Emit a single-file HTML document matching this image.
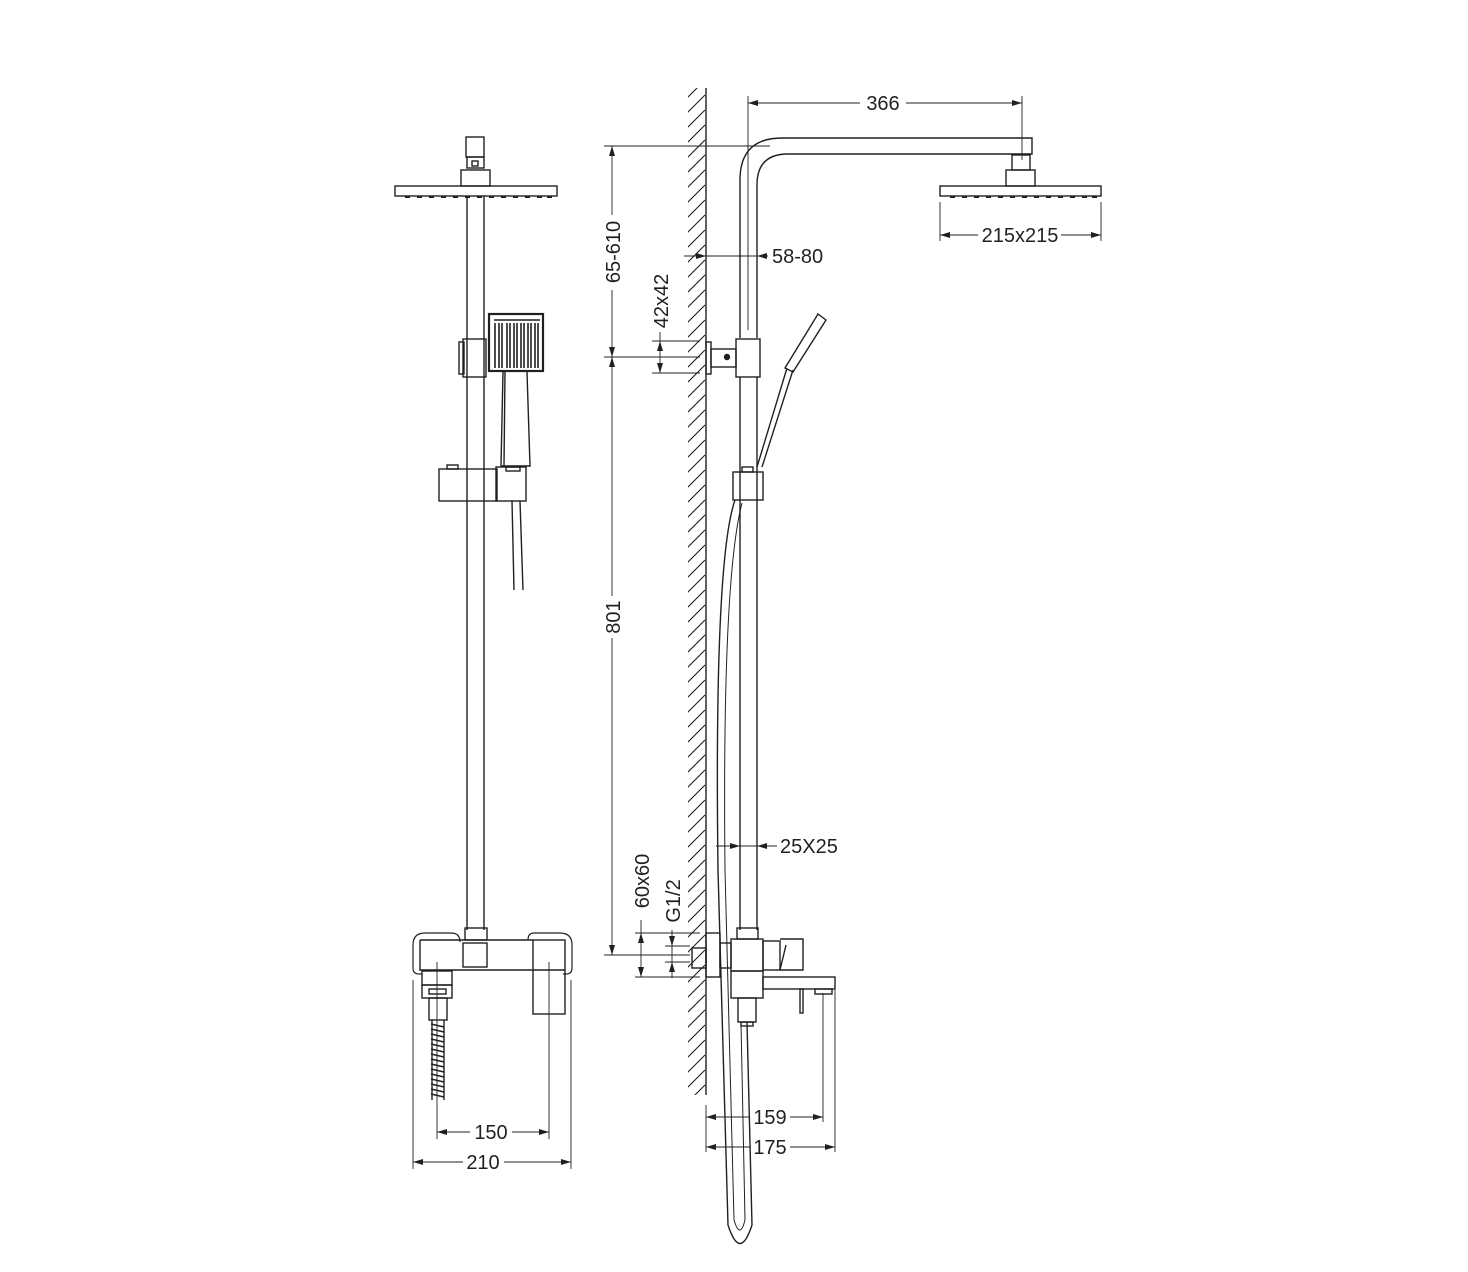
<!DOCTYPE html>
<html><head><meta charset="utf-8"><style>
html,body{margin:0;padding:0;background:#fff;}
svg{display:block}
text{font-family:"Liberation Sans",Arial,sans-serif;font-size:20px;fill:#231f20}
</style></head><body>
<svg width="1468" height="1272" viewBox="0 0 1468 1272" xmlns="http://www.w3.org/2000/svg">
<defs>
<pattern id="h" patternUnits="userSpaceOnUse" width="40" height="15">
<line x1="-5" y1="20" x2="25" y2="-10" stroke="#231f20" stroke-width="1.1"/>
<line x1="-5" y1="5" x2="25" y2="-25" stroke="#231f20" stroke-width="1.1"/>
<line x1="-5" y1="35" x2="25" y2="5" stroke="#231f20" stroke-width="1.1"/>
</pattern>
<marker id="a" viewBox="0 0 10 6" refX="10" refY="3" markerWidth="10" markerHeight="6" orient="auto-start-reverse" markerUnits="userSpaceOnUse"><path d="M0,0 L10,3 L0,6z" fill="#231f20"/></marker>
</defs>
<g fill="none" stroke="#231f20" stroke-width="1.4">
<!-- LEFT VIEW -->
<rect x="466" y="137" width="18" height="20"/><rect x="467" y="157" width="17" height="11"/><rect x="472" y="161" width="6" height="5"/>
<rect x="461" y="170" width="29" height="16"/>
<rect x="395" y="186" width="162" height="10"/>
<path d="M405 197h5M417 197h5M429 197h5M441 197h5M453 197h5M465 197h5M477 197h5M489 197h5M501 197h5M513 197h5M525 197h5M537 197h5M547 197h5" stroke-width="2"/>
<line x1="467" y1="196" x2="467" y2="930"/><line x1="484" y1="196" x2="484" y2="930"/>
<rect x="459" y="342" width="5" height="32"/><rect x="463" y="339" width="23" height="38"/>
<rect x="489" y="314" width="54" height="57" stroke-width="2.2"/>
<path d="M494 320h46" />
<path d="M495 323v45M499 323v45M502 323v45M507 323v45M510 323v45M514 323v45M517 323v45M521 323v45M524 323v45M528 323v45M531 323v45M535 323v45M538 323v45" stroke-width="1.6"/>
<path d="M503 372 L501 466 L530 466 L527 372 M505 372 L504 466"/>
<rect x="439" y="469" width="58" height="32"/><rect x="447" y="465" width="11" height="4"/>
<rect x="496" y="467" width="30" height="34"/><rect x="506" y="467" width="14" height="4"/>
<path d="M512 501 L514 590 M520 501 L523 590"/>
<rect x="465" y="928" width="22" height="12"/>
<path d="M420 940 V970 H565 M420 940 H533" />
<path d="M413 945 q0 -12 12 -12 h26 q9 0 9 9 M413 945 V968 q0 6 6 6 h3" stroke-width="1.2"/>
<path d="M572 945 q0 -12 -12 -12 h-26 q-6 0 -6 7 M572 945 V968 q0 6 -6 6 h-3" stroke-width="1.2"/>
<rect x="463" y="943" width="24" height="24"/>
<rect x="533" y="940" width="32" height="74"/>
<rect x="422" y="971" width="30" height="14"/><rect x="422" y="985" width="30" height="13"/><rect x="429" y="989" width="17" height="5"/>
<rect x="429" y="998" width="18" height="22"/>
<path d="M432 1020 L432 1100 M444 1020 L444 1100"/>
<path d="M431 1024 l13 3 M431 1029 l13 3 M431 1034 l13 3 M431 1039 l13 3 M431 1044 l13 3 M431 1049 l13 3 M431 1054 l13 3 M431 1059 l13 3 M431 1064 l13 3 M431 1069 l13 3 M431 1074 l13 3 M431 1079 l13 3 M431 1084 l13 3 M431 1089 l13 3 M431 1094 l13 3" stroke-width="1.6"/>
<g stroke-width="0.9">
<line x1="437" y1="962" x2="437" y2="1139"/><line x1="549" y1="962" x2="549" y2="1139"/>
<line x1="413" y1="980" x2="413" y2="1169"/><line x1="571" y1="980" x2="571" y2="1169"/>
<line x1="437" y1="1132" x2="470" y2="1132" marker-start="url(#a)"/><line x1="512" y1="1132" x2="549" y2="1132" marker-end="url(#a)"/>
<line x1="413" y1="1162" x2="463" y2="1162" marker-start="url(#a)"/><line x1="504" y1="1162" x2="571" y2="1162" marker-end="url(#a)"/>
</g>
<!-- RIGHT VIEW -->
<rect x="688" y="88" width="18" height="1007" fill="url(#h)" stroke="none"/>
<line x1="706" y1="88" x2="706" y2="1095"/>
<path d="M740 338 V180 q0 -42 42 -42 H1032 V154 H788 q-31 0 -31 31 V338"/>
<rect x="1012" y="155" width="18" height="15"/><rect x="1006" y="170" width="29" height="16"/>
<rect x="940" y="186" width="161" height="10"/>
<path d="M950 197h5M962 197h5M974 197h5M986 197h5M998 197h5M1010 197h5M1022 197h5M1034 197h5M1046 197h5M1058 197h5M1070 197h5M1082 197h5M1092 197h5" stroke-width="2"/>
<rect x="706" y="342" width="5" height="32"/><rect x="711" y="349" width="25" height="18"/><circle cx="727" cy="357" r="2.5" fill="#231f20"/>
<rect x="736" y="339" width="24" height="38"/>
<line x1="740" y1="377" x2="740" y2="930"/><line x1="757" y1="377" x2="757" y2="930"/>
<rect x="733" y="472" width="30" height="28"/><rect x="742" y="467" width="11" height="5"/>
<path d="M757 467 L787 368 M762 467 L793 370 M785 368 L818 314 L826 320 L793 372 Z"/>
<path d="M735 500 Q714 560 718 870 L728 1225 Q740 1262 752 1225 L747 1022"/>
<path d="M742 503 Q722 580 725 870 L734 1220 Q740 1240 745 1220 L741 1022" stroke-width="1"/>
<rect x="706" y="933" width="14" height="44"/><rect x="692" y="948" width="14" height="20"/>
<rect x="720" y="943" width="11" height="25"/>
<rect x="737" y="928" width="21" height="11"/>
<rect x="731" y="939" width="32" height="32"/><rect x="731" y="971" width="32" height="27"/>
<rect x="763" y="941" width="17" height="29"/>
<path d="M780 939 H803 V970 H780 M780 970 L786 945"/>
<rect x="763" y="977" width="72" height="12"/>
<rect x="800" y="989" width="3" height="24"/>
<rect x="815" y="989" width="17" height="5"/>
<rect x="738" y="998" width="18" height="24"/><rect x="741" y="1022" width="12" height="4"/>
<g stroke-width="0.9">
<line x1="748" y1="96" x2="748" y2="330"/><line x1="1022" y1="96" x2="1022" y2="160"/>
<line x1="748" y1="103" x2="860" y2="103" marker-start="url(#a)"/><line x1="906" y1="103" x2="1022" y2="103" marker-end="url(#a)"/>
<line x1="940" y1="202" x2="940" y2="241"/><line x1="1101" y1="202" x2="1101" y2="241"/>
<line x1="940" y1="235" x2="978" y2="235" marker-start="url(#a)"/><line x1="1061" y1="235" x2="1101" y2="235" marker-end="url(#a)"/>
<line x1="604" y1="146" x2="770" y2="146"/><line x1="604" y1="357" x2="700" y2="357"/><line x1="604" y1="955" x2="690" y2="955"/>
<line x1="612" y1="146" x2="612" y2="215" marker-start="url(#a)"/><line x1="612" y1="290" x2="612" y2="357" marker-end="url(#a)"/>
<line x1="612" y1="357" x2="612" y2="596" marker-start="url(#a)"/><line x1="612" y1="638" x2="612" y2="955" marker-end="url(#a)"/>
<line x1="652" y1="341" x2="700" y2="341"/><line x1="652" y1="373" x2="700" y2="373"/>
<line x1="660" y1="341" x2="660" y2="373" marker-start="url(#a)" marker-end="url(#a)"/>
<line x1="660" y1="332" x2="660" y2="341"/>
<line x1="684" y1="256" x2="706" y2="256" marker-end="url(#a)"/><line x1="706" y1="256" x2="757" y2="256"/><line x1="768" y1="256" x2="757" y2="256" marker-end="url(#a)"/>
<line x1="716" y1="846" x2="740" y2="846" marker-end="url(#a)"/><line x1="740" y1="846" x2="757" y2="846"/><line x1="777" y1="846" x2="757" y2="846" marker-end="url(#a)"/>
<line x1="635" y1="933" x2="700" y2="933"/><line x1="635" y1="977" x2="700" y2="977"/>
<line x1="641" y1="933" x2="641" y2="977" marker-start="url(#a)" marker-end="url(#a)"/>
<line x1="641" y1="920" x2="641" y2="933"/>
<line x1="665" y1="946" x2="690" y2="946"/><line x1="665" y1="962" x2="690" y2="962"/>
<line x1="672" y1="930" x2="672" y2="946" marker-end="url(#a)"/><line x1="672" y1="978" x2="672" y2="962" marker-end="url(#a)"/><line x1="672" y1="946" x2="672" y2="962"/>
<line x1="706" y1="1105" x2="706" y2="1152"/><line x1="823" y1="993" x2="823" y2="1122"/><line x1="835" y1="990" x2="835" y2="1152"/>
<line x1="706" y1="1117" x2="750" y2="1117" marker-start="url(#a)"/><line x1="790" y1="1117" x2="823" y2="1117" marker-end="url(#a)"/>
<line x1="706" y1="1147" x2="750" y2="1147" marker-start="url(#a)"/><line x1="790" y1="1147" x2="835" y2="1147" marker-end="url(#a)"/>
</g>
</g>
<text x="491" y="1139" text-anchor="middle">150</text>
<text x="483" y="1169" text-anchor="middle">210</text>
<text x="883" y="110" text-anchor="middle">366</text>
<text x="1020" y="242" text-anchor="middle">215x215</text>
<text x="772" y="263">58-80</text>
<text x="780" y="853">25X25</text>
<text x="770" y="1124" text-anchor="middle">159</text>
<text x="770" y="1154" text-anchor="middle">175</text>
<text transform="translate(620,252) rotate(-90)" text-anchor="middle" style="font-size:20px">65-610</text>
<text transform="translate(668,301) rotate(-90)" text-anchor="middle" style="font-size:20px">42x42</text>
<text transform="translate(620,617) rotate(-90)" text-anchor="middle" style="font-size:20px">801</text>
<text transform="translate(649,881) rotate(-90)" text-anchor="middle" style="font-size:20px">60x60</text>
<text transform="translate(680,901) rotate(-90)" text-anchor="middle" style="font-size:20px">G1/2</text>
</svg>
</body></html>
